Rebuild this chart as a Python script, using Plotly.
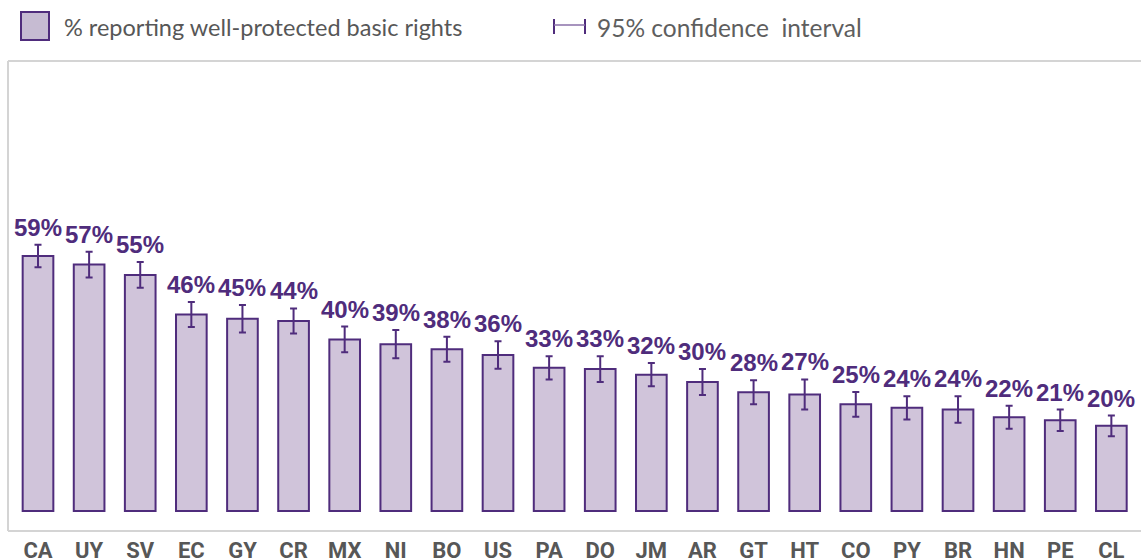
"""
Bar chart: share reporting well-protected basic rights, by country,
with 95% confidence intervals.
"""

import plotly.graph_objects as go

countries = ["CA", "UY", "SV", "EC", "GY", "CR", "MX", "NI", "BO", "US", "PA",
             "DO", "JM", "AR", "GT", "HT", "CO", "PY", "BR", "HN", "PE", "CL"]
values = [59.3, 57.3, 54.9, 45.7, 44.7, 44.2, 39.9, 38.8, 37.6, 36.3, 33.3,
          33.0, 31.7, 30.0, 27.6, 27.1, 24.8, 24.0, 23.6, 21.8, 21.1, 19.8]
ci_half = [2.6, 3.0, 3.0, 2.9, 3.2, 2.9, 3.0, 3.3, 2.9, 3.2, 2.7,
           3.0, 2.7, 3.0, 2.8, 3.5, 2.9, 2.7, 3.1, 2.7, 2.5, 2.4]
bar_labels = [f"{round(v)}%" for v in values]

PURPLE = "#4F2C7C"
FILL = "#D0C4DA"
GREY_TEXT = "#575757"
FRAME = "#D4D4D4"

W, H = 1141, 558
L, R, T, B = 8, 0, 61, 27


def px_x(px):
    """Pixel x to paper coordinate."""
    return (px - L) / (W - L - R)


def px_y(py):
    """Pixel y (from top) to paper coordinate."""
    return (H - B - py) / (H - T - B)


fig = go.Figure()
fig.add_trace(
    go.Bar(
        x=countries,
        y=values,
        marker=dict(color=FILL, line=dict(color=PURPLE, width=2)),
        error_y=dict(type="data", array=ci_half, color=PURPLE,
                     thickness=2, width=3.5),
        hoverinfo="x+y",
    )
)

# value labels sit just above the upper end of each confidence interval
annotations = [
    dict(x=c, y=v + e, text=t, xref="x", yref="y", showarrow=False,
         xanchor="center", yanchor="bottom", yshift=2,
         font=dict(family="Liberation Sans", size=24, color=PURPLE,
                   weight="bold"))
    for c, v, e, t in zip(countries, values, ci_half, bar_labels)
]

# frame around the plot (no right edge visible)
shapes = [
    dict(type="line", xref="paper", yref="paper", x0=0, x1=0, y0=0, y1=1),
    dict(type="line", xref="paper", yref="paper", x0=0, x1=1.05, y0=1, y1=1),
    dict(type="line", xref="paper", yref="paper", x0=0, x1=1.05, y0=0, y1=0),
]
for s in shapes:
    s["line"] = dict(color=FRAME, width=2)

# legend: swatch and confidence-interval glyph
shapes.append(dict(type="rect", xref="paper", yref="paper",
                   x0=px_x(21), x1=px_x(49), y0=px_y(40), y1=px_y(12),
                   fillcolor="#C6BBD2", line=dict(color=PURPLE, width=2)))
shapes.append(dict(type="line", xref="paper", yref="paper",
                   x0=px_x(554), x1=px_x(554), y0=px_y(34), y1=px_y(19),
                   line=dict(color=PURPLE, width=2)))
shapes.append(dict(type="line", xref="paper", yref="paper",
                   x0=px_x(585), x1=px_x(585), y0=px_y(34), y1=px_y(19),
                   line=dict(color=PURPLE, width=2)))
shapes.append(dict(type="line", xref="paper", yref="paper",
                   x0=px_x(554), x1=px_x(585), y0=px_y(25), y1=px_y(25),
                   line=dict(color="#8A70A8", width=1.5)))

annotations += [
    dict(text="% reporting well-protected basic rights", xref="paper",
         yref="paper", x=px_x(62), y=px_y(27), xanchor="left",
         yanchor="middle", showarrow=False,
         font=dict(family="Lato", size=23.5, color=GREY_TEXT)),
    dict(text="95% confidence  interval", xref="paper", yref="paper",
         x=px_x(595), y=px_y(27), xanchor="left", yanchor="middle",
         showarrow=False,
         font=dict(family="Lato", size=24.5, color="#5E5E5E")),
]

fig.update_layout(
    width=W,
    height=H,
    margin=dict(l=L, r=R, t=T, b=B, autoexpand=False),
    paper_bgcolor="white",
    plot_bgcolor="white",
    showlegend=False,
    bargap=0.4,
    shapes=shapes,
    annotations=annotations,
    xaxis=dict(
        range=[-0.587, 21.58],
        showgrid=False,
        zeroline=False,
        showline=False,
        ticks="",
        ticklabelstandoff=4,
        tickfont=dict(family="Roboto", size=22, color=GREY_TEXT,
                      weight="bold"),
        fixedrange=True,
    ),
    yaxis=dict(
        range=[-4.65, 104.65],
        visible=False,
        fixedrange=True,
    ),
)

# the page's default body margin would shift the figure by 8px
fig.write_html(
    "out.html",
    config={"displayModeBar": False},
    post_script="document.body.style.margin='0';"
                "document.body.style.overflow='hidden';",
)
